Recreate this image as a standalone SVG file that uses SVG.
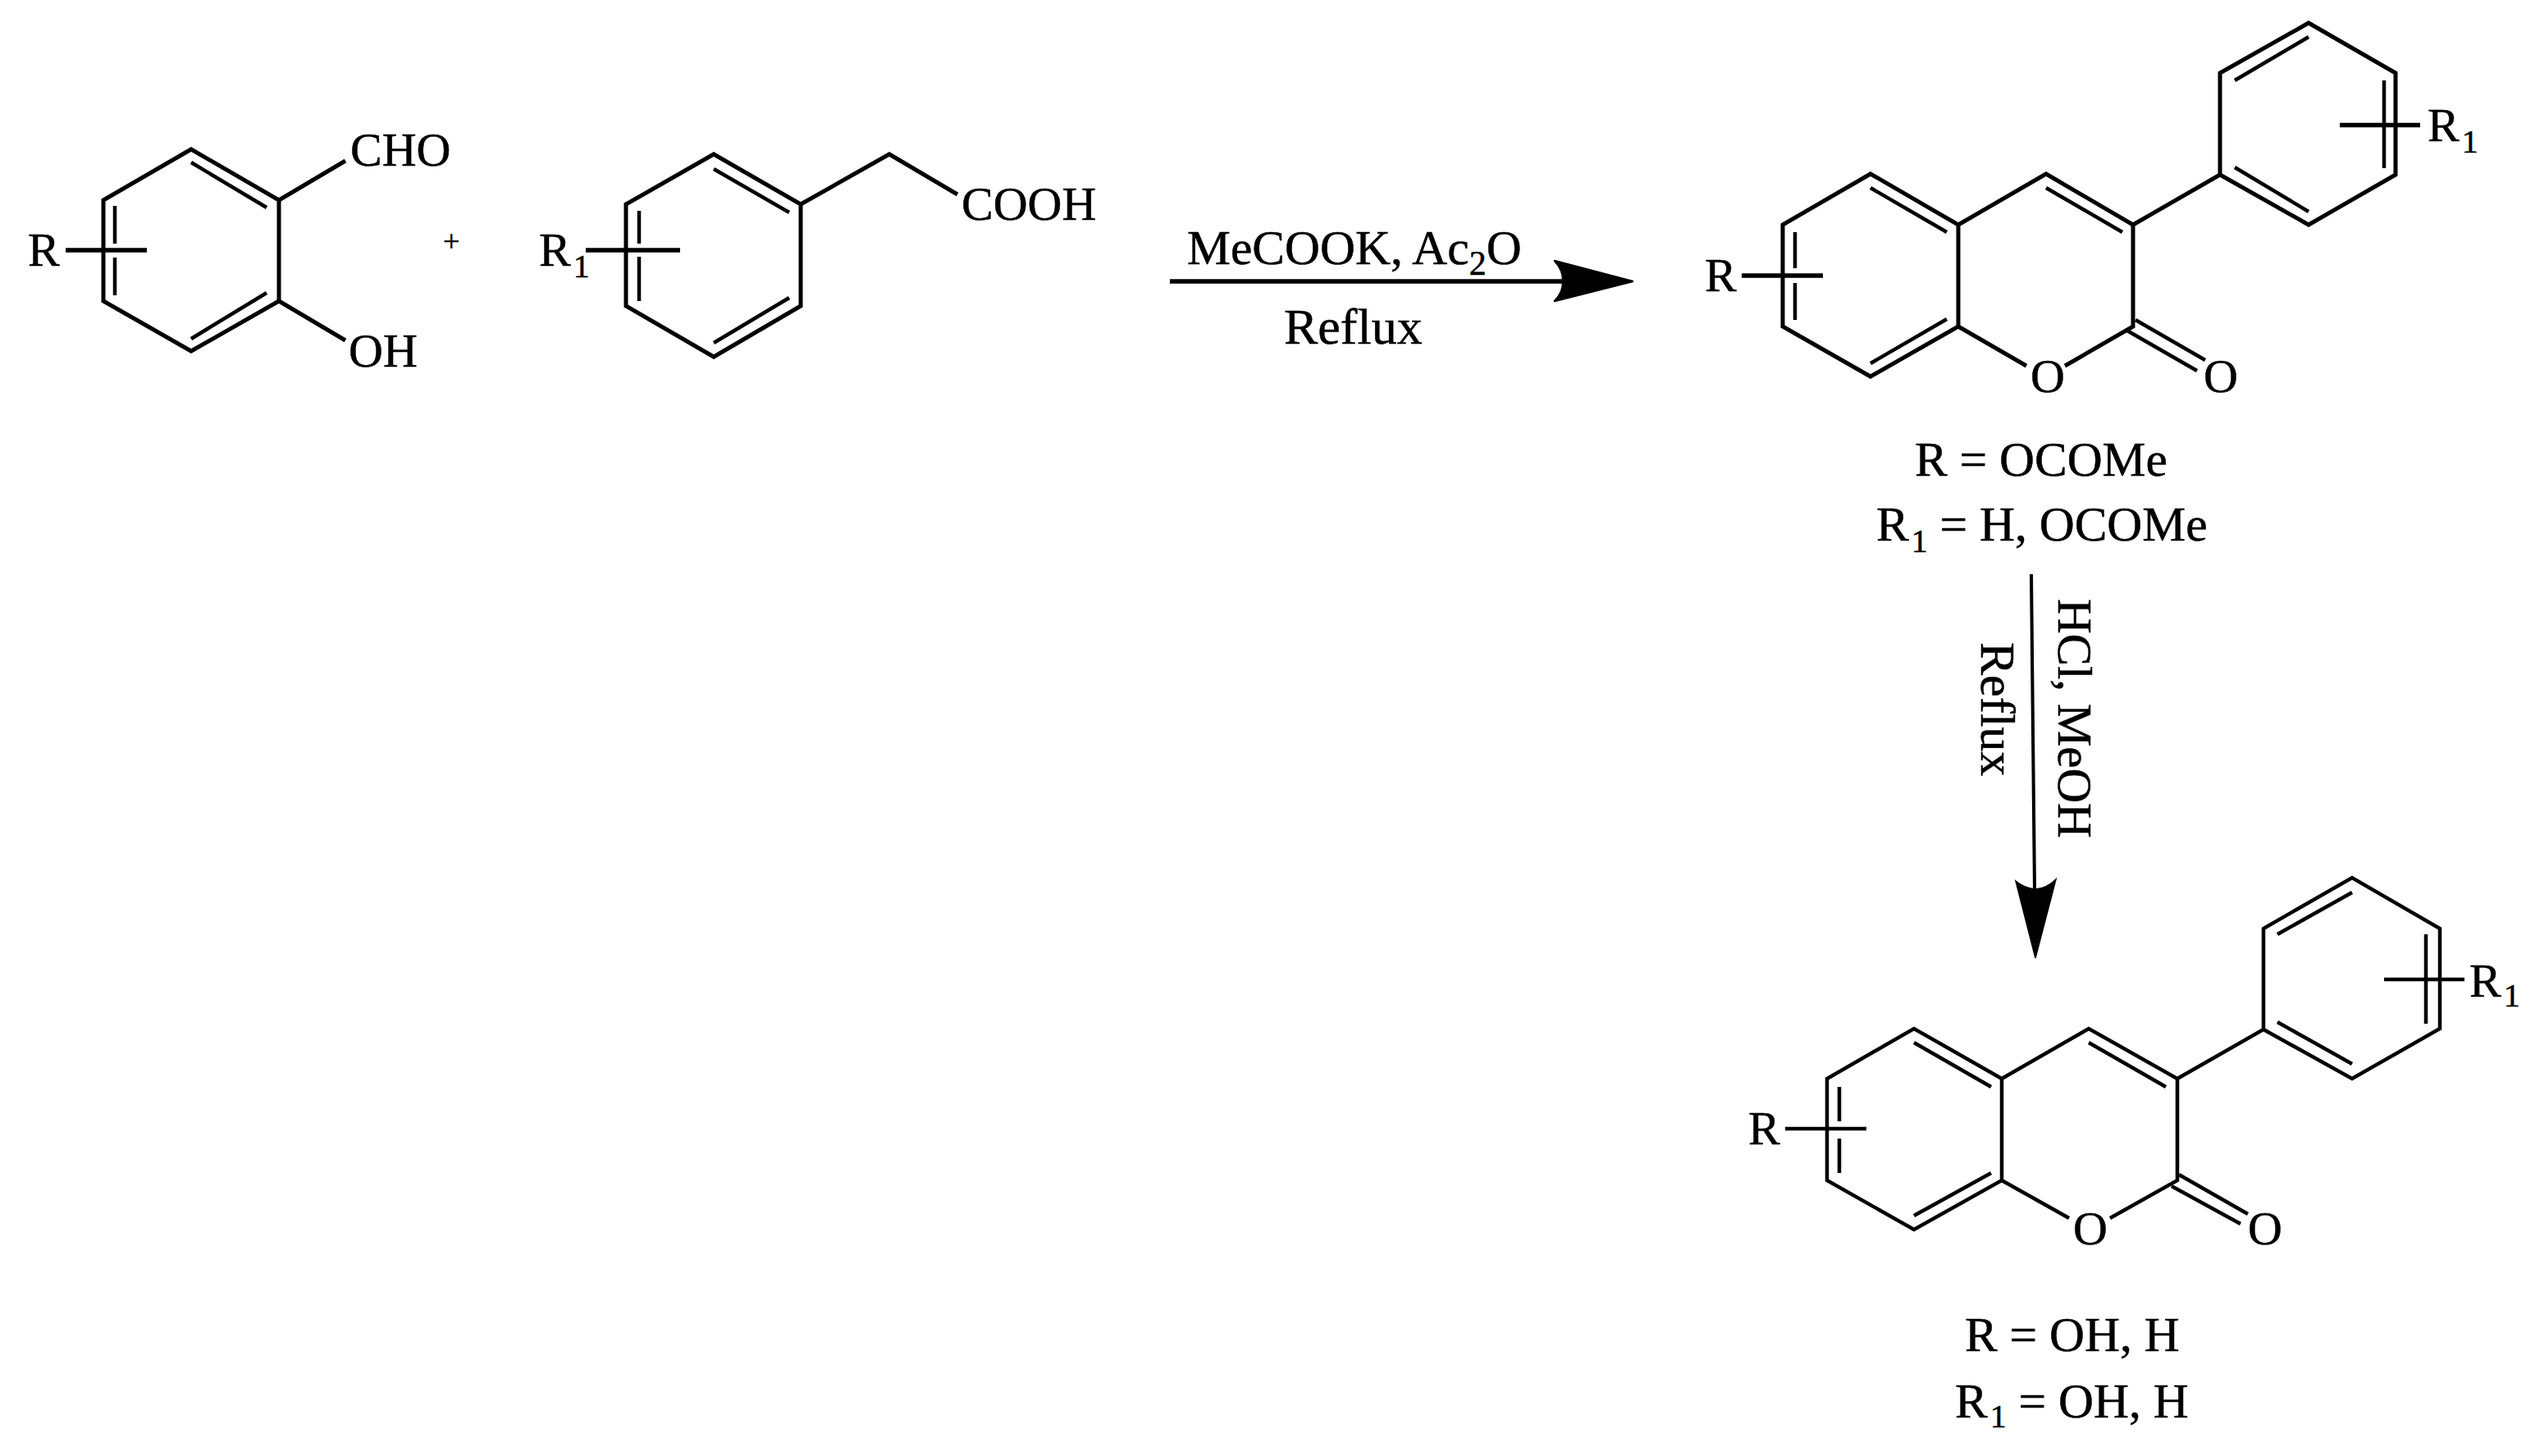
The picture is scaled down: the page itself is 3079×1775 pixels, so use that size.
<svg xmlns="http://www.w3.org/2000/svg" width="3079" height="1775" viewBox="0 0 3079 1775">
<style>
.b{fill:none;stroke:#000;stroke-width:5;stroke-linejoin:miter;stroke-linecap:butt}
.i{stroke-width:4.5}
.s{stroke-width:5.5}
.f{stroke-width:4.5}
text{font-family:"Liberation Serif","Times New Roman",serif;font-size:58px;fill:#000;stroke:#000;stroke-width:.5}
.u{font-size:40px}
.w{font-size:59.5px}
</style>
<rect width="3079" height="1775" fill="#fff"/>

<g id="salicylaldehyde">
<path class="b" d="M233 182L340 244V367L233 428L126 367V244Z"/>
<path class="b i" d="M233 198L325 253M325 357L233 413M140 251V297M140 314V360"/>
<path class="b s" d="M80 305H179"/>
<path class="b" d="M340 244L421 196M340 367L421 415"/>
<text x="34" y="324">R</text>
<text x="427" y="202">CHO</text>
<text x="425" y="447">OH</text>
</g>

<g id="plus">
<text x="540" y="305.5" style="font-size:36px">+</text>
</g>

<g id="phenylacetic-acid">
<path class="b" d="M870 188L976 249V373L870 435L763 373V249Z"/>
<path class="b i" d="M870 206L962 259M962 363L870 418M779 257V297M779 313V367"/>
<path class="b s" d="M714 305H829"/>
<path class="b" d="M976 249L1084 188L1167 237"/>
<text x="657" y="324">R<tspan class="u" dx="3" dy="14">1</tspan></text>
<text x="1172" y="268">COOH</text>
</g>

<g id="coumarin-acetate">
<path class="b" d="M2387 274L2280 212L2173 274V398L2280 459L2387 398ZM2387 274L2494 212L2600 274V398L2517 446M2387 398L2470 446M2600 274L2706 213V89L2814 28L2920 89V213L2814 274L2706 213"/>
<path class="b i" d="M2280 229L2373 283M2494 229L2587 283M2188 283V327M2188 345V390M2373 389L2280 443M2814 45L2724 98M2906 98V205M2724 204L2814 258M2603 390L2688 439M2591 402L2678 452"/>
<path class="b s" d="M2123 336H2222M2852 152.5H2950"/>
<text x="2078" y="355">R</text>
<text x="2959" y="172">R<tspan class="u" dx="3" dy="14">1</tspan></text>
<text x="2475" y="478">O</text>
<text x="2686" y="478">O</text>
<text x="2334" y="580" class="w">R = OCOMe</text>
<text x="2287" y="659" class="w">R<tspan class="u" dx="3" dy="14">1</tspan><tspan dy="-14"> = H, OCOMe</tspan></text>
</g>

<g id="coumarin-hydroxy">
<path class="b f" d="M2440 1315L2333 1254L2227 1315V1439L2333 1499L2440 1439ZM2440 1315L2546 1254L2654 1315V1439L2572 1485M2440 1439L2522 1485M2654 1315L2759 1255V1132L2867 1070L2974 1132V1254L2867 1315L2759 1255"/>
<path class="b f" d="M2333 1271L2427 1325M2546 1271L2640 1325M2242 1325V1367M2242 1388V1430M2427 1430L2333 1482M2867 1088L2776 1139M2957 1139V1248M2776 1246L2867 1297M2656 1432L2740 1480M2647 1446L2731 1492"/>
<path class="b f" d="M2176 1376H2275M2906 1194H3004"/>
<text x="2131" y="1395">R</text>
<text x="3010" y="1215">R<tspan class="u" dx="3" dy="12">1</tspan></text>
<text x="2527" y="1517">O</text>
<text x="2740" y="1517">O</text>
<text x="2395" y="1647" class="w">R = OH, H</text>
<text x="2383" y="1728" class="w">R<tspan class="u" dx="3" dy="12">1</tspan><tspan dy="-12"> = OH, H</tspan></text>
</g>

<g id="connectors">
<path class="b s" d="M1426 343H1906"/>
<path d="M1990 343L1895 318Q1906 330 1905 343Q1906 356 1895 367Z" stroke="#000" stroke-width="2.5" stroke-linejoin="round"/>
<path class="b" style="stroke-width:4" d="M2476 700L2480 1084"/>
<path d="M2481 1168L2457 1074Q2468 1083 2481 1084Q2495 1083 2506 1072Z" stroke="#000" stroke-width="1.5"/>
</g>

<g id="reaction-labels">
<text x="1447" y="322" style="font-size:59.5px">MeCOOK, Ac<tspan style="font-size:42px" dy="13">2</tspan><tspan dy="-13">O</tspan></text>
<text x="1565" y="419" style="font-size:62px">Reflux</text>
<text transform="translate(2509 730) rotate(90)" style="font-size:59px">HCl, MeOH</text>
<text transform="translate(2415 783) rotate(90)" style="font-size:60px">Reflux</text>
</g>
</svg>
